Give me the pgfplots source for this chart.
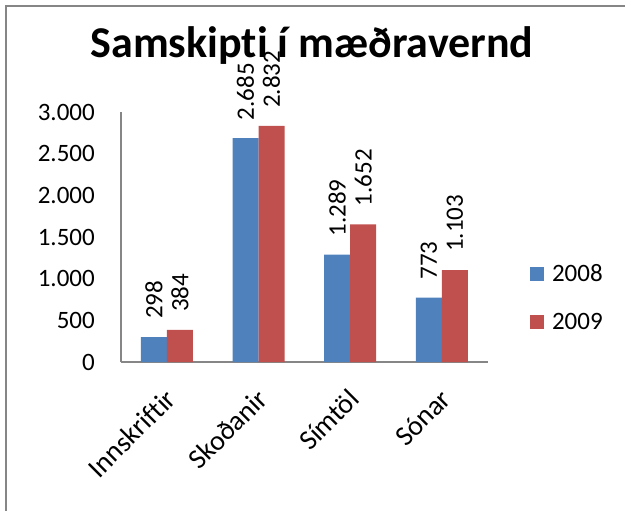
\documentclass[border=0pt]{standalone}
\usepackage{fontspec}
\setmainfont{Carlito}[Ligatures=NoCommon]
\usepackage{pgfplots}
\pgfplotsset{compat=1.18}
\definecolor{cBlue}{HTML}{4F81BD}
\definecolor{cRed}{HTML}{C0504D}
\definecolor{cAxis}{HTML}{868686}
\pgfplotsset{sqleg/.style={legend image code/.code={\fill[##1] (0bp,-7bp) rectangle (14bp,7bp);}}}
\newcommand\tf{\fontsize{25bp}{30bp}\selectfont}
\newcommand\xf{\fontsize{28bp}{32bp}\selectfont}
\begin{document}
\begin{tikzpicture}
\path[use as bounding box] (0,0) rectangle (625bp,511bp);
\draw[cAxis, line width=2.5bp] (6bp,0) -- (6bp,505bp) -- (625bp,505bp);
\node[font=\bfseries\fontsize{44bp}{50bp}\selectfont, anchor=base, inner sep=0pt] at (312bp,453bp) {Samskipti í mæðravernd};
\begin{axis}[
  at={(121bp,149bp)}, anchor=south west,
  scale only axis, width=366.7bp, height=250bp,
  xmin=-0.5, xmax=3.5, ymin=0, ymax=3000,
  axis lines*=left,
  axis line style={cAxis, line width=1.5bp},
  tick style={draw=none},
  ytick={0,500,1000,1500,2000,2500,3000},
  scaled y ticks=false,
  /pgf/number format/.cd, fixed, 1000 sep={.}, assume math mode=true, /pgfplots/.cd,
  yticklabel style={font=\tf, anchor=east, inner sep=0pt, xshift=-26bp},
  xtick={0,1,2,3},
  xticklabels={Innskriftir, Skoðanir, Símtöl, Sónar},
  xticklabel style={font=\xf, xshift=4bp, yshift=-28bp, rotate=45, anchor=east, inner sep=0pt},
  ybar=0pt, bar width=26bp,
  clip=false,
  nodes near coords,
  every node near coord/.append style={font=\tf, rotate=90, anchor=west, inner sep=0pt, xshift=18bp, text=black},
  legend style={draw=none, fill=none, at={(1.115,0.257)}, anchor=west, inner sep=0pt,
    nodes={inner sep=0pt, font=\tf}, column sep=8bp, row sep=30bp},
  legend cell align=left,
]
\addplot[fill=cBlue, draw=none, sqleg] coordinates {(0,298) (1,2685) (2,1289) (3,773)};
\addplot[fill=cRed, draw=none, sqleg] coordinates {(0,384) (1,2832) (2,1652) (3,1103)};
\legend{2008,2009}
\end{axis}
\end{tikzpicture}
\end{document}
